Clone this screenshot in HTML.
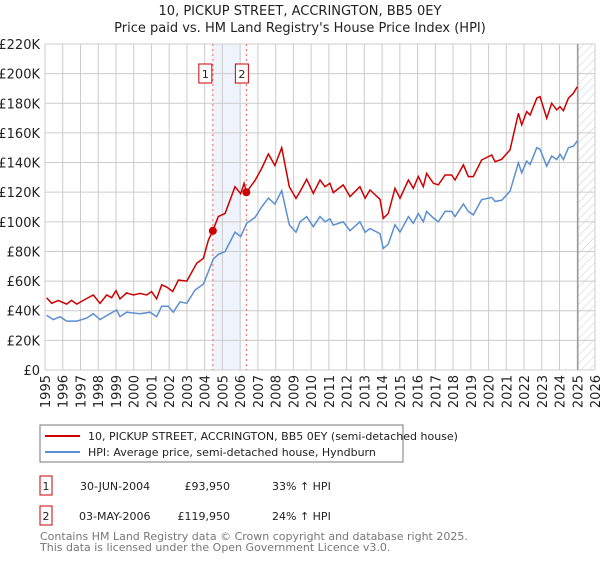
<!DOCTYPE html>
<html><head><meta charset="utf-8"><style>
body{margin:0;background:#fff;font-family:"Liberation Sans","DejaVu Sans",sans-serif;}
svg text{font-family:"DejaVu Sans","Liberation Sans",sans-serif;}
</style></head><body>
<svg width="600" height="560" xmlns="http://www.w3.org/2000/svg">
<defs><pattern id="hatch" width="6" height="6" patternUnits="userSpaceOnUse" patternTransform="rotate(45)"><line x1="0" y1="0" x2="0" y2="6" stroke="#ccc" stroke-width="1"/></pattern></defs>
<text x="300" y="15" text-anchor="middle" font-size="13" fill="#222">10, PICKUP STREET, ACCRINGTON, BB5 0EY</text>
<text x="300" y="32" text-anchor="middle" font-size="13" fill="#222">Price paid vs. HM Land Registry's House Price Index (HPI)</text>
<g id="grid"></g><g id="plot"></g><g id="axes"></g>
<rect x="40" y="425" width="363" height="37" fill="#fff" stroke="#777"/>
<line x1="45" y1="436" x2="80" y2="436" stroke="#cc0000" stroke-width="2"/>
<text x="88" y="440" font-size="11" fill="#222">10, PICKUP STREET, ACCRINGTON, BB5 0EY (semi-detached house)</text>
<line x1="45" y1="452" x2="80" y2="452" stroke="#5b8fd0" stroke-width="2"/>
<text x="88" y="456" font-size="11" fill="#222">HPI: Average price, semi-detached house, Hyndburn</text>
<g font-size="11" fill="#222">
<rect x="40" y="476" width="12" height="19" fill="#fff" stroke="#cc0000"/><text x="46" y="490" text-anchor="middle">1</text>
<text x="80" y="490">30-JUN-2004</text><text x="230" y="490" text-anchor="end">£93,950</text><text x="272" y="490">33% ↑ HPI</text></g>
<g font-size="11" fill="#222">
<rect x="40" y="506" width="12" height="19" fill="#fff" stroke="#cc0000"/><text x="46" y="520" text-anchor="middle">2</text>
<text x="79" y="520">03-MAY-2006</text><text x="230" y="520" text-anchor="end">£119,950</text><text x="272" y="520">24% ↑ HPI</text></g>
<text x="40" y="540" font-size="11" fill="#777">Contains HM Land Registry data © Crown copyright and database right 2025.</text>
<text x="40" y="551" font-size="11" fill="#777">This data is licensed under the Open Government Licence v3.0.</text>
</svg>
<script>
const hpiYears=[1995.09,1995.47,1995.85,1996.22,1996.79,1997.35,1997.72,1998.1,1998.66,1999.04,1999.23,1999.6,2000.36,2000.92,2001.29,2001.58,2001.95,2002.23,2002.61,2002.99,2003.46,2003.93,2004.49,2004.77,2005.15,2005.71,2006.03,2006.37,2006.84,2007.21,2007.59,2007.96,2008.34,2008.77,2009.15,2009.37,2009.75,2010.12,2010.5,2010.78,2011.06,2011.25,2011.81,2012.19,2012.75,2013.04,2013.32,2013.88,2014.07,2014.35,2014.73,2015.01,2015.48,2015.76,2016.04,2016.32,2016.51,2016.89,2017.17,2017.55,2017.92,2018.11,2018.58,2018.86,2019.14,2019.61,2020.18,2020.37,2020.74,2021.21,2021.68,2021.87,2022.15,2022.34,2022.72,2022.9,2023.28,2023.56,2023.84,2024.03,2024.22,2024.5,2024.78,2025.0];
const hpiValues=[37,34,36,33,33,35,38,34,38,40.5,36,39,38,39,36,43,43,39,46,45,54,58,75,78,80,93,90,99,103,110,116,112,121,98,93,100,103.5,96.7,103.5,100,102,97.8,100,94,100,93,95.5,92,82,85,98,93,103.5,99,105.6,100,107,102.6,100,107,107,103.5,112,107,104.7,114.9,116.5,113.8,114.5,120.6,139.8,133,141,138.7,150,149,137.6,144.4,142,145.6,142,150,151,154.7];
const priceYears=[1995.09,1995.38,1995.75,1996.22,1996.5,1996.79,1997.16,1997.72,1998.1,1998.48,1998.76,1999.0,1999.23,1999.6,1999.98,2000.36,2000.73,2001.01,2001.29,2001.58,2001.86,2002.2,2002.52,2002.99,2003.55,2003.93,2004.21,2004.46,2004.77,2005.15,2005.71,2006.03,2006.22,2006.35,2006.84,2007.21,2007.59,2007.96,2008.34,2008.77,2009.15,2009.37,2009.75,2010.12,2010.5,2010.78,2011.06,2011.25,2011.81,2012.19,2012.75,2013.04,2013.32,2013.88,2014.07,2014.35,2014.73,2015.01,2015.48,2015.76,2016.04,2016.32,2016.51,2016.89,2017.17,2017.55,2017.92,2018.11,2018.58,2018.86,2019.14,2019.61,2020.18,2020.37,2020.74,2021.21,2021.68,2021.87,2022.15,2022.34,2022.72,2022.9,2023.28,2023.56,2023.84,2024.03,2024.22,2024.5,2024.78,2025.0];
const priceValues=[48.8,45,47,44.5,47,44.5,47,50.6,45,50.6,48.8,53.5,48,52,50.6,51.7,50.6,52.9,48,57.4,56,53,60.7,60,72,75.4,87.7,93.95,103.5,105.7,123.7,119,126,119.95,128,136,145.8,138,150,123.7,115.8,120.4,128.7,119.2,128.2,123.7,126,119.7,124.9,117,123.7,115.9,121.5,115.2,102.4,105.7,122.6,115.9,128.2,122.6,130.5,123.7,132.7,126,124.9,131.6,131.6,128.2,138.4,130.5,130.5,141.7,145.1,140.6,142.2,148.5,173.2,165.4,174.4,172.1,183.4,184.5,169.9,180,175.5,177.7,175,183.4,186.7,191.2];
const saleYears=[2004.46,2006.35];
const saleValues=[93.95,119.95];
const saleLabels=["1","2"];
const yTicks=[0,20,40,60,80,100,120,140,160,180,200,220];
const yTickLabels=["£0","£20K","£40K","£60K","£80K","£100K","£120K","£140K","£160K","£180K","£200K","£220K"];
const xTicks=[1995,1996,1997,1998,1999,2000,2001,2002,2003,2004,2005,2006,2007,2008,2009,2010,2011,2012,2013,2014,2015,2016,2017,2018,2019,2020,2021,2022,2023,2024,2025,2026];
const NS="http://www.w3.org/2000/svg";
const X0=45,X1=595,Y0=370,Y1=44;
const xs=y=>X0+(y-1995)/(2026-1995)*(X1-X0);
const ys=v=>Y0-v/220*(Y0-Y1);
function mk(tag,attrs,parent){const e=document.createElementNS(NS,tag);for(const k in attrs)e.setAttribute(k,attrs[k]);parent.appendChild(e);return e;}
const grid=document.getElementById('grid'),plot=document.getElementById('plot'),axes=document.getElementById('axes');
const shade=mk('rect',{x:xs(saleYears[0]),y:Y1,width:xs(2006.05)-xs(saleYears[0]),height:Y0-Y1,fill:'#eef3fc'},grid);


const hat=mk('rect',{x:xs(2025.03),y:Y1,width:X1-xs(2025.03),height:Y0-Y1,fill:'url(#hatch)'},grid);


yTicks.forEach((t,i)=>{
 const l=mk('line',{x1:X0,x2:X1,y1:ys(t),y2:ys(t),stroke:'#ccc','stroke-width':1},grid);
 
 
 const tx=mk('text',{x:40,y:ys(t)+5,'text-anchor':'end','font-size':13,fill:'#222'},axes);
 tx.textContent=yTickLabels[i];
 
 
});
xTicks.forEach(t=>{
 const l=mk('line',{x1:xs(t),x2:xs(t),y1:Y1,y2:Y0,stroke:'#ccc','stroke-width':1},grid);
 
 
 const tx=mk('text',{x:0,y:0,'font-size':13,fill:'#222','text-anchor':'end',transform:`translate(${xs(t)+5},${Y0+5}) rotate(-90)`},axes);
 tx.textContent=t;
 
 
});
const vline=mk('line',{x1:xs(2025.03),x2:xs(2025.03),y1:Y1,y2:Y0,stroke:'#999','stroke-width':1.5},grid);


saleYears.forEach((y,i)=>{
 const l=mk('line',{x1:xs(y),x2:xs(y),y1:Y1,y2:Y0,stroke:'#f06060','stroke-width':1,'stroke-dasharray':'2,3'},plot);
 
 
});
const pts=(xa,va)=>xa.map((x,i)=>xs(x).toFixed(1)+','+ys(va[i]).toFixed(1)).join(' ');
const hpi=mk('polyline',{points:pts(hpiYears,hpiValues),fill:'none',stroke:'#5b8fd0','stroke-width':1.5},plot);


const pr=mk('polyline',{points:pts(priceYears,priceValues),fill:'none',stroke:'#cc0000','stroke-width':1.5},plot);


saleYears.forEach((y,i)=>{
 const c=mk('circle',{cx:xs(y),cy:ys(saleValues[i]),r:4,fill:'#cc0000'},plot);
 
 
 const bx=xs(y)-7-(i===0?2:-1);
 const r=mk('rect',{x:bx-5,y:64,width:13,height:19,fill:'#fff',stroke:'#cc0000'},plot);
 
 
 const t=mk('text',{x:bx+1.5,y:78,'text-anchor':'middle','font-size':11,fill:'#222'},plot);
 t.textContent=saleLabels[i];
 
 
});
</script>
</body></html>
